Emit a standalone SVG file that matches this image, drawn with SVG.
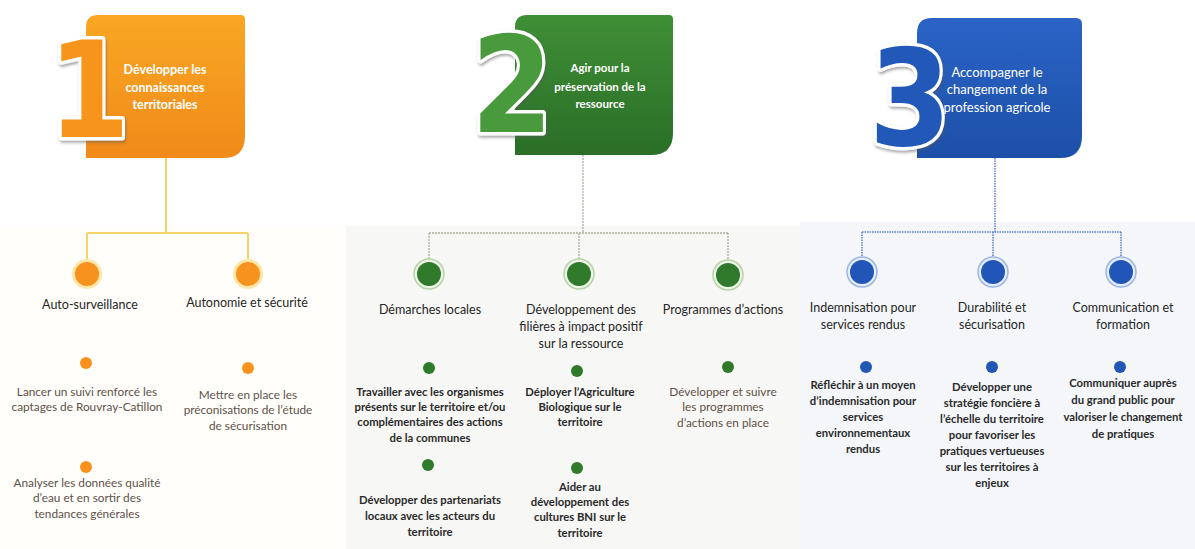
<svg xmlns="http://www.w3.org/2000/svg" width="1195" height="549" viewBox="0 0 1195 549">
<defs>
<linearGradient id="gO" x1="0" y1="0" x2="0" y2="1"><stop offset="0" stop-color="#f9a724"/><stop offset="1" stop-color="#f08a19"/></linearGradient>
<linearGradient id="gG" x1="0" y1="0" x2="0" y2="1"><stop offset="0" stop-color="#3f8f36"/><stop offset="1" stop-color="#2a6e27"/></linearGradient>
<linearGradient id="gB" x1="0" y1="0" x2="0" y2="1"><stop offset="0" stop-color="#2b64c6"/><stop offset="1" stop-color="#1c4fa8"/></linearGradient>
<filter id="sh" x="-20%" y="-20%" width="140%" height="140%"><feDropShadow dx="1" dy="2" stdDeviation="1.5" flood-color="#555" flood-opacity="0.55"/></filter>
<style>
.num{font-family:"DejaVu Sans",sans-serif;font-weight:bold;font-size:134px;stroke:#fff;stroke-width:7;paint-order:stroke;stroke-linejoin:round;text-anchor:middle}
.bt{font-family:Lato,"Open Sans",sans-serif;fill:#fff;text-anchor:middle}
.h{font-family:Lato,"Open Sans",sans-serif;font-size:12.5px;fill:#262626;text-anchor:middle}
.it{font-family:Lato,"Open Sans",sans-serif;font-size:11.3px;font-weight:bold;fill:#2a2a2a;text-anchor:middle}
.lt{font-family:Lato,"Open Sans",sans-serif;font-size:11.8px;fill:#5e5149;text-anchor:middle}
.c1{fill:none;stroke:#f6d36a;stroke-width:2}
.c2{fill:none;stroke:#a9b19c;stroke-width:1.3;stroke-dasharray:2 1}
.c3{fill:none;stroke:#5a7fcf;stroke-width:1.5;stroke-dasharray:1.5 1}
</style>
</defs>
<rect width="1195" height="549" fill="#ffffff"/>
<rect x="0" y="226" width="346" height="323" fill="#fffefa"/>
<rect x="346" y="226" width="454" height="323" fill="#f7f7f5"/>
<rect x="800" y="222" width="395" height="327" fill="#f4f6fa"/>

<g id="connectors">
<path class="c1" d="M166,158 V233 M87,233 H248 M87,233 V259 M248,233 V259"/>
<path class="c2" d="M583,155 V233 M429,233 H728 M429,233 V259 M579,233 V259 M728,233 V260"/>
<path class="c3" d="M995,158 V232 M862,232 H1121 M862,232 V257 M993,232 V257 M1121,232 V257"/>
</g>

<g id="box1">
<path d="M86,27 Q86,15 98,15 H241 Q245,15 245,19 V136 Q245,158 223,158 H86 Z" fill="url(#gO)"/>
<text class="num" transform="translate(89,137) scale(0.88,1)" fill="#f7941d" filter="url(#sh)">1</text>
<text class="bt" font-size="12.5" font-weight="bold"><tspan x="165" y="74">Développer les</tspan><tspan x="165" y="92">connaissances</tspan><tspan x="165" y="109">territoriales</tspan></text>
</g>
<g id="box2">
<path d="M515,27 Q515,15 527,15 H669 Q673,15 673,19 V133 Q673,155 651,155 H515 Z" fill="url(#gG)"/>
<text class="num" transform="translate(512,132) scale(0.88,1)" fill="#4a9a3c" filter="url(#sh)">2</text>
<text class="bt" font-size="11.5" font-weight="bold"><tspan x="600" y="72">Agir pour la</tspan><tspan x="600" y="91">préservation de la</tspan><tspan x="600" y="108">ressource</tspan></text>
</g>
<g id="box3">
<path d="M917,33 Q917,18 932,18 H1076 Q1082,18 1082,24 V136 Q1082,158 1060,158 H917 Z" fill="url(#gB)"/>
<text class="num" transform="translate(910,145) scale(0.88,1)" fill="#2258b8" filter="url(#sh)">3</text>
<text class="bt" font-size="13"><tspan x="997" y="77">Accompagner le</tspan><tspan x="997" y="94">changement de la</tspan><tspan x="997" y="112">profession agricole</tspan></text>
</g>

<g id="s1a">
<circle cx="87" cy="274" r="15" fill="#fde6a6"/><circle cx="87" cy="274" r="12" fill="#f7921e"/>
<text class="h" font-size="11" x="90" y="309">Auto-surveillance</text>
<circle cx="86" cy="363" r="6" fill="#f7921e"/>
<text class="lt"><tspan x="87" y="396">Lancer un suivi renforcé les</tspan><tspan x="87" y="411">captages de Rouvray-Catillon</tspan></text>
<circle cx="86" cy="467" r="6" fill="#f7921e"/>
<text class="lt" fill="#3e342e"><tspan x="87" y="487">Analyser les données qualité</tspan><tspan x="87" y="502">d’eau et en sortir des</tspan><tspan x="87" y="518">tendances générales</tspan></text>
</g>
<g id="s1b">
<circle cx="248" cy="274" r="15" fill="#fde6a6"/><circle cx="248" cy="274" r="12" fill="#f7921e"/>
<text class="h" font-size="13" x="247" y="307">Autonomie et sécurité</text>
<circle cx="248" cy="368" r="6" fill="#f7921e"/>
<text class="lt" fill="#3e342e"><tspan x="248" y="399">Mettre en place les</tspan><tspan x="248" y="414">préconisations de l’étude</tspan><tspan x="248" y="430">de sécurisation</tspan></text>
</g>

<g id="s2a">
<circle cx="429" cy="274" r="15" fill="#eef3e8" stroke="#b9d3a8" stroke-width="1.5"/><circle cx="429" cy="274" r="12" fill="#2f7a2b"/>
<text class="h" font-size="13" x="430" y="314">Démarches locales</text>
<circle cx="429" cy="368" r="6" fill="#2f7a2b"/>
<text class="it"><tspan x="430" y="396">Travailler avec les organismes</tspan><tspan x="430" y="411">présents sur le territoire et/ou</tspan><tspan x="430" y="426">complémentaires des actions</tspan><tspan x="430" y="442">de la communes</tspan></text>
<circle cx="428" cy="465" r="6" fill="#2f7a2b"/>
<text class="it"><tspan x="430" y="504">Développer des partenariats</tspan><tspan x="430" y="520">locaux avec les acteurs du</tspan><tspan x="430" y="536">territoire</tspan></text>
</g>
<g id="s2b">
<circle cx="579" cy="274" r="15" fill="#eef3e8" stroke="#b9d3a8" stroke-width="1.5"/><circle cx="579" cy="274" r="12" fill="#2f7a2b"/>
<text class="h" font-size="13"><tspan x="581" y="314">Développement des</tspan><tspan x="581" y="331">filières à impact positif</tspan><tspan x="581" y="348">sur la ressource</tspan></text>
<circle cx="577" cy="371" r="6" fill="#2f7a2b"/>
<text class="it"><tspan x="580" y="396">Déployer l’Agriculture</tspan><tspan x="580" y="411">Biologique sur le</tspan><tspan x="580" y="426">territoire</tspan></text>
<circle cx="577" cy="468" r="6" fill="#2f7a2b"/>
<text class="it"><tspan x="580" y="491">Aider au</tspan><tspan x="580" y="506">développement des</tspan><tspan x="580" y="521">cultures BNI sur le</tspan><tspan x="580" y="537">territoire</tspan></text>
</g>
<g id="s2c">
<circle cx="728" cy="275" r="15" fill="#eef3e8" stroke="#b9d3a8" stroke-width="1.5"/><circle cx="728" cy="275" r="12" fill="#2f7a2b"/>
<text class="h" font-size="13" x="723" y="314">Programmes d’actions</text>
<circle cx="728" cy="367" r="6" fill="#2f7a2b"/>
<text class="lt"><tspan x="723" y="396">Développer et suivre</tspan><tspan x="723" y="411">les programmes</tspan><tspan x="723" y="427">d’actions en place</tspan></text>
</g>

<g id="s3a">
<circle cx="862" cy="272" r="15" fill="#e6edf8" stroke="#9cb6e6" stroke-width="1.5"/><circle cx="862" cy="272" r="12" fill="#1f56b7"/>
<text class="h"><tspan x="863" y="312">Indemnisation pour</tspan><tspan x="863" y="329">services rendus</tspan></text>
<circle cx="866" cy="367" r="6" fill="#2257b5"/>
<text class="it"><tspan x="863" y="389">Réfléchir à un moyen</tspan><tspan x="863" y="405">d’indemnisation pour</tspan><tspan x="863" y="421">services</tspan><tspan x="863" y="437">environnementaux</tspan><tspan x="863" y="453">rendus</tspan></text>
</g>
<g id="s3b">
<circle cx="993" cy="272" r="15" fill="#e6edf8" stroke="#9cb6e6" stroke-width="1.5"/><circle cx="993" cy="272" r="12" fill="#1f56b7"/>
<text class="h"><tspan x="992" y="312">Durabilité et</tspan><tspan x="992" y="329">sécurisation</tspan></text>
<circle cx="992" cy="367" r="6" fill="#2257b5"/>
<text class="it"><tspan x="992" y="391">Développer une</tspan><tspan x="992" y="407">stratégie foncière à</tspan><tspan x="992" y="423">l’échelle du territoire</tspan><tspan x="992" y="439">pour favoriser les</tspan><tspan x="992" y="455">pratiques vertueuses</tspan><tspan x="992" y="471">sur les territoires à</tspan><tspan x="992" y="487">enjeux</tspan></text>
</g>
<g id="s3c">
<circle cx="1121" cy="272" r="15" fill="#e6edf8" stroke="#9cb6e6" stroke-width="1.5"/><circle cx="1121" cy="272" r="12" fill="#1f56b7"/>
<text class="h"><tspan x="1123" y="312">Communication et</tspan><tspan x="1123" y="329">formation</tspan></text>
<circle cx="1120" cy="367" r="6" fill="#2257b5"/>
<text class="it"><tspan x="1123" y="387">Communiquer auprès</tspan><tspan x="1123" y="404">du grand public pour</tspan><tspan x="1123" y="421">valoriser le changement</tspan><tspan x="1123" y="438">de pratiques</tspan></text>
</g>
</svg>
